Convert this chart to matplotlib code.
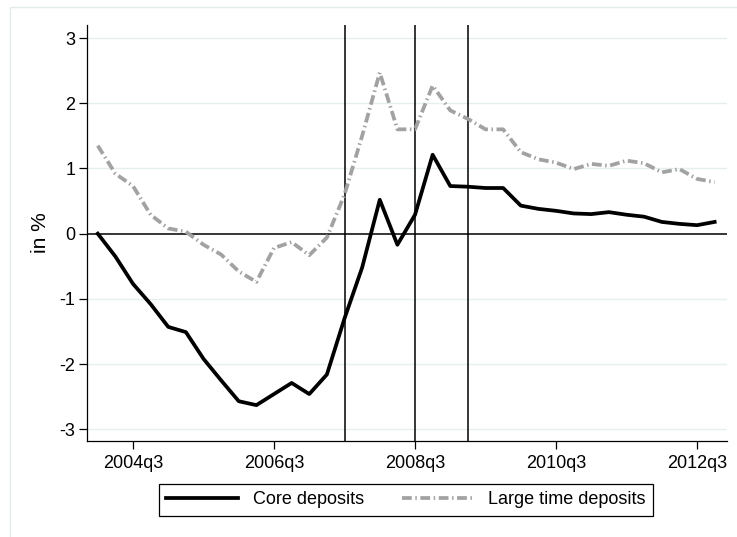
import matplotlib
matplotlib.use("Agg")
import matplotlib.pyplot as plt
from matplotlib.patches import Rectangle
import numpy as np
import pandas as pd

# quarterly sample 2004q1 - 2012q4
quarters = [f"{p.year}q{p.quarter}" for p in pd.period_range("2004Q1", "2012Q4", freq="Q")]

core = [0.00, -0.35, -0.77, -1.08, -1.43, -1.51, -1.92, -2.25, -2.57, -2.63,
        -2.46, -2.29, -2.46, -2.16, -1.30, -0.52, 0.52, -0.17, 0.29, 1.21,
        0.73, 0.72, 0.70, 0.70, 0.43, 0.38, 0.35, 0.31, 0.30, 0.33,
        0.29, 0.26, 0.18, 0.15, 0.13, 0.18]
large_time = [1.35, 0.92, 0.73, 0.29, 0.08, 0.03, -0.17, -0.32, -0.58, -0.74,
              -0.22, -0.13, -0.33, -0.06, 0.60, 1.50, 2.47, 1.60, 1.60, 2.27,
              1.89, 1.76, 1.60, 1.60, 1.25, 1.14, 1.09, 0.99, 1.07, 1.04,
              1.12, 1.08, 0.94, 0.99, 0.84, 0.79]

tick_quarters = ["2004q3", "2006q3", "2008q3", "2010q3", "2012q3"]
event_quarters = ["2007q3", "2008q3", "2009q2"]
yticks = [-3, -2, -1, 0, 1, 2, 3]

plt.rcParams["font.family"] = ["Liberation Sans", "DejaVu Sans"]
plt.rcParams["font.size"] = 13
plt.rcParams["axes.unicode_minus"] = False

t = np.arange(len(quarters))
pos = {q: i for i, q in enumerate(quarters)}

fig = plt.figure(figsize=(7.37, 5.37), dpi=100)
fig.patches.append(Rectangle((10 / 737, -0.1), 1.2, 1 - 7 / 537 + 0.1,
                             transform=fig.transFigure, fill=False,
                             edgecolor="#e3ebec", lw=1))
ax = fig.add_axes([87 / 737, 96 / 537, 640 / 737, 416 / 537])

for y in yticks:
    if y != 0:
        ax.axhline(y, color="#e6eeef", lw=1, zorder=0)
ax.axhline(0, color="black", lw=1.1, zorder=1)
for q in event_quarters:
    ax.axvline(pos[q], color="black", lw=1.1, zorder=1)

ax.plot(t, core, color="black", lw=2.7, solid_joinstyle="round",
        label="Core deposits", zorder=3)
ax.plot(t, large_time, color="#a2a2a2", lw=2.7, dashes=(2.6, 0.95, 0.4, 0.95),
        dash_capstyle="butt", label="Large time deposits", zorder=2)

ax.set_xlim(-0.61, len(quarters) - 0.3)
ax.set_ylim(-3.18, 3.2)
ax.set_yticks(yticks)
ax.set_xticks([pos[q] for q in tick_quarters])
ax.set_xticklabels(tick_quarters)
ax.set_ylabel("in %", fontsize=15, labelpad=7)

for side in ["top", "right"]:
    ax.spines[side].set_visible(False)
for side in ["left", "bottom"]:
    ax.spines[side].set_linewidth(0.9)
ax.tick_params(axis="both", direction="out", length=6, width=0.9)
ax.tick_params(axis="y", pad=2.5)
ax.tick_params(axis="x", pad=4)

fig.legend(loc="center", bbox_to_anchor=(406 / 737, 1 - 500 / 537), ncol=2,
           frameon=True, fancybox=False, edgecolor="black", framealpha=1,
           handlelength=4.0, handletextpad=0.8, columnspacing=2.1,
           borderpad=0.4).get_frame().set_linewidth(0.9)

fig.savefig("out.png", dpi=100)
